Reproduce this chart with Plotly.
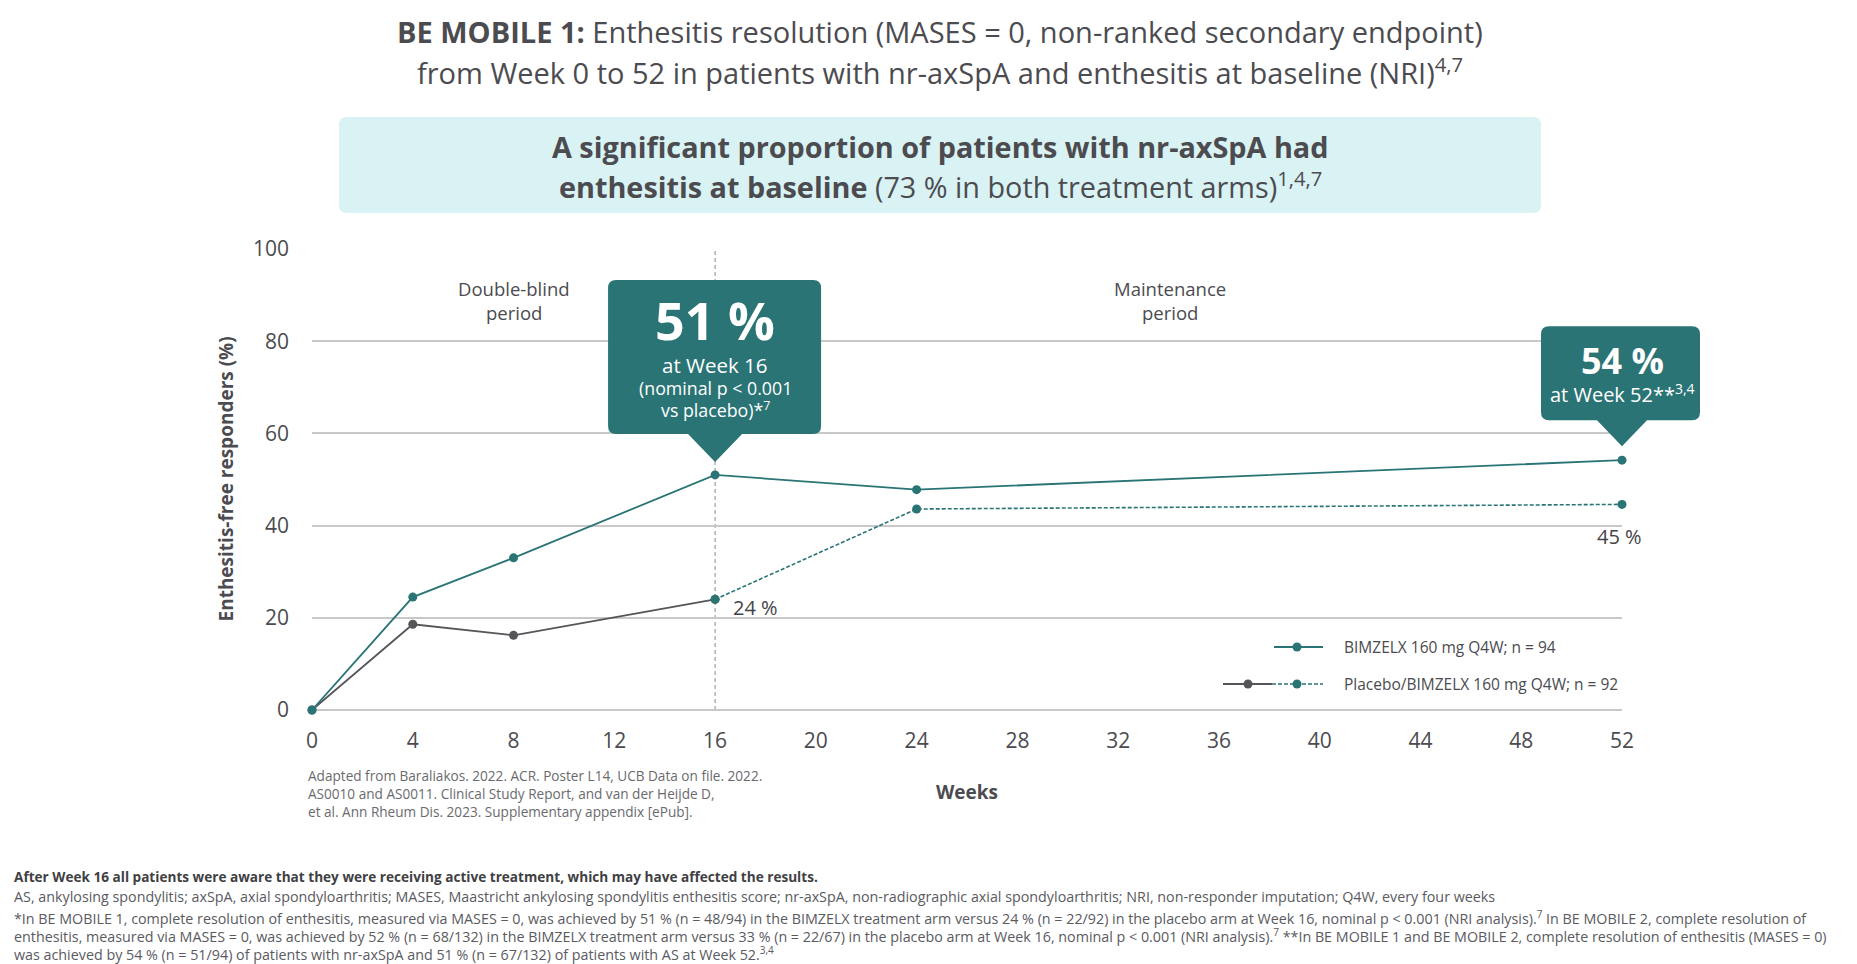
import plotly.graph_objects as go

# ---------------- data ----------------
weeks_bim = [0, 4, 8, 16, 24, 52]
resp_bim = [0, 24.5, 33.0, 51.0, 47.8, 54.2]
weeks_pbo_blind = [0, 4, 8, 16]
resp_pbo_blind = [0, 18.6, 16.2, 24.0]
weeks_pbo_switch = [16, 24, 52]
resp_pbo_switch = [24.0, 43.6, 44.6]
switch_week = 16
x_ticks = list(range(0, 53, 4))
y_ticks = [0, 20, 40, 60, 80, 100]
label_bim = "BIMZELX 160 mg Q4W; n = 94"
label_pbo = "Placebo/BIMZELX 160 mg Q4W; n = 92"

# ---------------- styling ----------------
TEAL = "#2a7475"
GRAY = "#55555a"
TXT = "#4b4b50"
GRID = "#c8c8c8"
FONT = "Open Sans"

W, H = 1857, 964
L, R, T, B = 312, 1622, 249, 710
XMAX, YMAX = 52, 100


def px(x):
    return (x - L) / (R - L)


def py(y):
    return (B - y) / (B - T)


def xpix(w):
    return L + w / XMAX * (R - L)


def ypix(v):
    return B - v / YMAX * (B - T)


fig = go.Figure()

fig.add_trace(go.Scatter(x=weeks_pbo_blind, y=resp_pbo_blind, mode="lines+markers",
                         line=dict(color=GRAY, width=1.8), marker=dict(color=GRAY, size=9),
                         cliponaxis=False, showlegend=False, hoverinfo="skip"))
fig.add_trace(go.Scatter(x=weeks_pbo_switch, y=resp_pbo_switch, mode="lines+markers",
                         line=dict(color=TEAL, width=1.6, dash="4px,2px"),
                         marker=dict(color=TEAL, size=9),
                         cliponaxis=False, showlegend=False, hoverinfo="skip"))
fig.add_trace(go.Scatter(x=weeks_bim, y=resp_bim, mode="lines+markers",
                         line=dict(color=TEAL, width=1.8), marker=dict(color=TEAL, size=9),
                         cliponaxis=False, showlegend=False, hoverinfo="skip"))

shapes = []
ann = []

# vertical dashed line at switch week
shapes.append(dict(type="line", xref="x", yref="y", x0=switch_week, x1=switch_week,
                   y0=0, y1=YMAX, line=dict(color="#8a8a8a", width=1, dash="4px,3px"),
                   layer="below"))


def rounded_rect_path(left, right, top, bottom, r):
    X = px
    Y = py
    return (f"M {X(left + r)} {Y(top)} L {X(right - r)} {Y(top)} "
            f"Q {X(right)} {Y(top)} {X(right)} {Y(top + r)} "
            f"L {X(right)} {Y(bottom - r)} Q {X(right)} {Y(bottom)} {X(right - r)} {Y(bottom)} "
            f"L {X(left + r)} {Y(bottom)} Q {X(left)} {Y(bottom)} {X(left)} {Y(bottom - r)} "
            f"L {X(left)} {Y(top + r)} Q {X(left)} {Y(top)} {X(left + r)} {Y(top)} Z")


def callout_path(left, right, top, bottom, tipx, tipy, half, r):
    X = px
    Y = py
    return (f"M {X(left + r)} {Y(top)} L {X(right - r)} {Y(top)} "
            f"Q {X(right)} {Y(top)} {X(right)} {Y(top + r)} "
            f"L {X(right)} {Y(bottom - r)} Q {X(right)} {Y(bottom)} {X(right - r)} {Y(bottom)} "
            f"L {X(tipx + half)} {Y(bottom)} L {X(tipx)} {Y(tipy)} L {X(tipx - half)} {Y(bottom)} "
            f"L {X(left + r)} {Y(bottom)} Q {X(left)} {Y(bottom)} {X(left)} {Y(bottom - r)} "
            f"L {X(left)} {Y(top + r)} Q {X(left)} {Y(top)} {X(left + r)} {Y(top)} Z")


# subtitle box
shapes.append(dict(type="path", xref="paper", yref="paper",
                   path=rounded_rect_path(339, 1541, 117, 213, 8),
                   fillcolor="#d9f2f3", line=dict(width=0), layer="below"))

# callout 1 (week 16)
tx1, ty1 = xpix(weeks_bim[3]), ypix(resp_bim[3]) - 13
shapes.append(dict(type="path", xref="paper", yref="paper",
                   path=callout_path(tx1 - 107, tx1 + 106, ty1 - 182, ty1 - 28, tx1, ty1, 27, 8),
                   fillcolor=TEAL, line=dict(width=0), layer="above"))
# callout 2 (week 52)
tx2, ty2 = xpix(weeks_bim[5]), ypix(resp_bim[5]) - 14
shapes.append(dict(type="path", xref="paper", yref="paper",
                   path=callout_path(tx2 - 81, tx2 + 78, ty2 - 120, ty2 - 26, tx2, ty2, 25, 8),
                   fillcolor=TEAL, line=dict(width=0), layer="above"))


def text(xp, yp, s, size, color=TXT, xanchor="center", yanchor="middle", angle=0, align="center",
         pad=1):
    ann.append(dict(x=px(xp), y=py(yp), xref="paper", yref="paper", text=s, showarrow=False,
                    xanchor=xanchor, yanchor=yanchor, textangle=angle, align=align,
                    borderpad=pad, font=dict(family=FONT, size=size, color=color)))


# title
text(940, 32, "<b>BE MOBILE 1:</b> Enthesitis resolution (MASES = 0, non-ranked secondary endpoint)",
     29, pad=0)
text(940, 71, "from Week 0 to 52 in patients with nr-axSpA and enthesitis at baseline (NRI)<sup>4,7</sup>",
     29, pad=0)
# subtitle
text(940, 146, "<b>A significant proportion of patients with nr-axSpA had</b>", 28.8, pad=0)
text(940, 185, "<b>enthesitis at baseline</b> (73 % in both treatment arms)<sup>1,4,7</sup>",
     28.8, pad=0)

# period labels
text(514, 288, "Double-blind", 18.5)
text(514, 312, "period", 18.5)
text(1170, 288, "Maintenance", 18.5)
text(1170, 312, "period", 18.5)

# callout 1 text
text(tx1, ty1 - 142, "<b>51 %</b>", 52, "white", pad=0)
text(tx1, ty1 - 97, "at Week 16", 20.5, "white", pad=0)
text(tx1, ty1 - 74, "(nominal p < 0.001", 17.8, "white", pad=0)
text(tx1, ty1 - 52, "vs placebo)*<sup>7</sup>", 17.8, "white", pad=0)
# callout 2 text
text(tx2, ty2 - 86, "<b>54 %</b>", 36, "white", pad=0)
text(tx2, ty2 - 53, "at Week 52**<sup>3,4</sup>", 20, "white", pad=0)

# value labels
text(xpix(weeks_pbo_blind[3]) + 16, ypix(resp_pbo_blind[3]) + 8,
     f"{resp_pbo_blind[3]:.0f} %", 20, "#444448", xanchor="left")
text(xpix(weeks_pbo_switch[2]) - 3, ypix(resp_pbo_switch[2]) + 32,
     f"{round(resp_pbo_switch[2] + 0.4):.0f} %", 20, "#444448")

# axis titles
text(225, (T + B) / 2, "<b>Enthesitis-free responders (%)</b>", 19, TXT, angle=-90)
text(967, 792, "<b>Weeks</b>", 19, TXT)

# source
SRC = "#6a6a6e"
text(306, 775, "Adapted from Baraliakos. 2022. ACR. Poster L14, UCB Data on file. 2022.", 13.6, SRC, xanchor="left")
text(306, 793, "AS0010 and AS0011. Clinical Study Report, and van der Heijde D,", 13.6, SRC, xanchor="left")
text(306, 811, "et al. Ann Rheum Dis. 2023. Supplementary appendix [ePub].", 13.6, SRC, xanchor="left")

# legend
shapes.append(dict(type="line", xref="paper", yref="paper", x0=px(1274), x1=px(1323),
                   y0=py(647), y1=py(647), line=dict(color=TEAL, width=1.8)))
shapes.append(dict(type="line", xref="paper", yref="paper", x0=px(1223), x1=px(1272),
                   y0=py(684), y1=py(684), line=dict(color=GRAY, width=1.8)))
shapes.append(dict(type="line", xref="paper", yref="paper", x0=px(1272), x1=px(1323),
                   y0=py(684), y1=py(684), line=dict(color=TEAL, width=1.6, dash="4px,2px")))
for cx, cy, col in [(1297, 647, TEAL), (1248, 684, GRAY), (1297, 684, TEAL)]:
    shapes.append(dict(type="circle", xref="paper", yref="paper", xsizemode="pixel",
                       ysizemode="pixel", xanchor=px(cx), yanchor=py(cy),
                       x0=-4.5, x1=4.5, y0=-4.5, y1=4.5, fillcolor=col, line=dict(width=0)))
text(1342, 647, label_bim, 15.5, TXT, xanchor="left")
text(1342, 684, label_pbo, 15.5, TXT, xanchor="left")

# footnotes
FN = "#5a5a5f"
text(12, 876, "<b>After Week 16 all patients were aware that they were receiving active treatment, which may have affected the results.</b>", 13.6, "#3f3f44", xanchor="left")
text(12, 896, "AS, ankylosing spondylitis; axSpA, axial spondyloarthritis; MASES, Maastricht ankylosing spondylitis enthesitis score; nr-axSpA, non-radiographic axial spondyloarthritis; NRI, non-responder imputation; Q4W, every four weeks", 14.3, FN, xanchor="left")
text(12, 917, "*In BE MOBILE 1, complete resolution of enthesitis, measured via MASES = 0, was achieved by 51 % (n = 48/94) in the BIMZELX treatment arm versus 24 % (n = 22/92) in the placebo arm at Week 16, nominal p < 0.001 (NRI analysis).<sup>7</sup> In BE MOBILE 2, complete resolution of", 14.3, FN, xanchor="left")
text(12, 935, "enthesitis, measured via MASES = 0, was achieved by 52 % (n = 68/132) in the BIMZELX treatment arm versus 33 % (n = 22/67) in the placebo arm at Week 16, nominal p < 0.001 (NRI analysis).<sup>7</sup> **In BE MOBILE 1 and BE MOBILE 2, complete resolution of enthesitis (MASES = 0)", 14.3, FN, xanchor="left")
text(12, 953, "was achieved by 54 % (n = 51/94) of patients with nr-axSpA and 51 % (n = 67/132) of patients with AS at Week 52.<sup>3,4</sup>", 14.3, FN, xanchor="left")

fig.update_layout(
    width=W, height=H, autosize=False,
    margin=dict(l=L, r=W - R, t=T, b=H - B, pad=0),
    paper_bgcolor="white", plot_bgcolor="white",
    font=dict(family=FONT, color=TXT),
    shapes=shapes, annotations=ann, showlegend=False,
    xaxis=dict(range=[0, XMAX], tickvals=x_ticks, showgrid=False, zeroline=False,
               showline=False, ticks="", tickfont=dict(size=21, color=TXT, family=FONT),
               ticklabelstandoff=16, fixedrange=True),
    yaxis=dict(range=[0, YMAX], tickvals=y_ticks, showgrid=True, gridcolor=GRID, gridwidth=1.5,
               zeroline=True, zerolinecolor=GRID, zerolinewidth=1.5, showline=False, ticks="",
               tickfont=dict(size=21, color=TXT, family=FONT), ticklabelstandoff=22,
               fixedrange=True),
)

fig.write_html("out.html", config={"displayModeBar": False},
               post_script="document.body.style.margin='0';")
